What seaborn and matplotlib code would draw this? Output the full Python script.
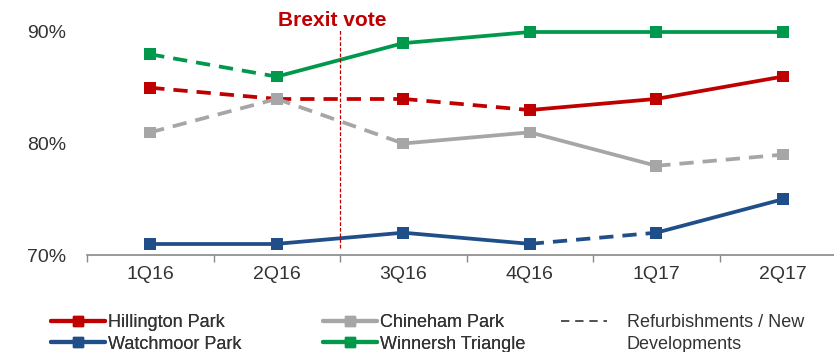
import matplotlib
matplotlib.use("Agg")
import matplotlib.pyplot as plt
import seaborn as sns
import pandas as pd
from matplotlib.lines import Line2D

quarters = ["1Q16", "2Q16", "3Q16", "4Q16", "1Q17", "2Q17"]
series_names = ["Hillington Park", "Chineham Park", "Watchmoor Park", "Winnersh Triangle"]
hillington = [85, 84, 84, 83, 84, 86]
chineham = [81, 84, 80, 81, 78, 79]
watchmoor = [71, 71, 72, 71, 72, 75]
winnersh = [88, 86, 89, 90, 90, 90]
# segment i joins quarter i and i+1; True = refurbishment/new development (dashed)
hillington_dashed = [True, True, True, False, False]
chineham_dashed = [True, True, False, False, True]
watchmoor_dashed = [False, False, False, True, False]
winnersh_dashed = [True, False, False, False, False]
colors = {"Hillington Park": "#C00000", "Chineham Park": "#A6A6A6",
          "Watchmoor Park": "#1F4E89", "Winnersh Triangle": "#00994C"}
event_label = "Brexit vote"
event_pos = 1.5
dash_label = ["Refurbishments / New", "Developments"]

sns.set_theme(style="white")
plt.rcParams["font.family"] = ["Liberation Sans", "DejaVu Sans"]

values = {"Hillington Park": hillington, "Chineham Park": chineham,
          "Watchmoor Park": watchmoor, "Winnersh Triangle": winnersh}
dashed = {"Hillington Park": hillington_dashed, "Chineham Park": chineham_dashed,
          "Watchmoor Park": watchmoor_dashed, "Winnersh Triangle": winnersh_dashed}

rows = []
for s in series_names:
    for i, d in enumerate(dashed[s]):
        for j in (i, i + 1):
            rows.append({"series": s, "seg": f"{s}-{i}", "x": j, "y": values[s][j], "dashed": d})
seg_df = pd.DataFrame(rows)
pt_df = pd.DataFrame([{"series": s, "x": j, "y": v} for s in series_names for j, v in enumerate(values[s])])

W, H = 834, 352
fig = plt.figure(figsize=(W / 100, H / 100), dpi=100)
ax = fig.add_axes([87 / W, 1 - 255 / H, 1 - 87 / W, (255 - 32) / H])

sns.lineplot(data=seg_df, x="x", y="y", hue="series", style="dashed", units="seg",
             estimator=None, palette=colors, dashes={True: (3.8, 2.4), False: ""},
             linewidth=2.7, ax=ax, legend=False, clip_on=False)
sns.scatterplot(data=pt_df, x="x", y="y", hue="series", palette=colors, marker="s",
                s=70, linewidth=0, ax=ax, legend=False, clip_on=False, zorder=5)

ax.set_xlim(-0.5, 5.405)
ax.set_ylim(70, 90)
ax.set_xticks(range(len(quarters)))
ax.set_xticklabels(quarters, fontsize=14, color="#333333")
ax.set_yticks([70, 80, 90])
ax.set_yticklabels(["70%", "80%", "90%"], fontsize=14, color="#333333")
ax.tick_params(axis="y", length=0, pad=15)
ax.tick_params(axis="x", length=0, pad=8)
ax.set_xticks([i - 0.5 for i in range(len(quarters))], minor=True)
ax.tick_params(axis="x", which="minor", length=5, color="#888888", width=1, direction="out", bottom=True)
for sp in ["top", "right", "left"]:
    ax.spines[sp].set_visible(False)
ax.spines["bottom"].set_color("#888888")
ax.spines["bottom"].set_linewidth(1.2)
ax.set_xlabel("")
ax.set_ylabel("")
ax.grid(False)

ax.axvline(event_pos, ymin=0.03, ymax=1.01, color="#C00000", linestyle=(0, (3, 1.5)),
           linewidth=0.9, clip_on=False)
ax.text(event_pos - 0.06, 90.55, event_label, color="#C00000", fontsize=15, fontweight="bold",
        ha="center", va="baseline")

# legend: three columns placed separately
legend_cols = [
    (["Hillington Park", "Watchmoor Park"], 51),
    (["Chineham Park", "Winnersh Triangle"], 323),
]
top = 1 - 314 / H
for names, x0 in legend_cols:
    hs = [Line2D([], [], color=colors[s], linewidth=3, marker="s", markersize=7) for s in names]
    lg = fig.legend(hs, names, loc="upper left", bbox_to_anchor=(x0 / W, top), frameon=False,
                    fontsize=13, handlelength=3.0, handletextpad=0.17, labelspacing=0.25,
                    borderpad=0, borderaxespad=0)
    for t in lg.get_texts():
        t.set_color("#333333")
    fig.add_artist(lg)

hs = [Line2D([], [], color="#333333", linewidth=1.2, linestyle=(0, (5, 3.5))),
      Line2D([], [], color="none")]
lg = fig.legend(hs, dash_label, loc="upper left", bbox_to_anchor=(561 / W, top), frameon=False,
                fontsize=13, handlelength=2.55, handletextpad=1.1, labelspacing=0.25,
                borderpad=0, borderaxespad=0)
for t in lg.get_texts():
    t.set_color("#333333")

fig.savefig("out.png", dpi=100)
